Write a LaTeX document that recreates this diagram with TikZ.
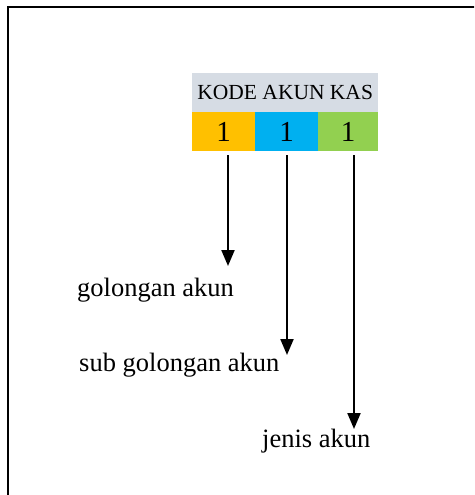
\documentclass[tikz,border=0pt]{standalone}
\usepackage{fontspec}
\setmainfont{Liberation Serif}
\usetikzlibrary{arrows.meta}
\definecolor{hdrgray}{HTML}{D6DCE4}
\definecolor{cellorange}{HTML}{FFC000}
\definecolor{cellblue}{HTML}{00B0F0}
\definecolor{cellgreen}{HTML}{92D050}
\begin{document}
\begin{tikzpicture}[x=1pt,y=-1pt,
  cellbox/.style={minimum width=63pt,minimum height=39pt,inner sep=0pt,outer sep=0pt,font=\fontsize{29}{32}\selectfont},
  lbl/.style={anchor=base west,inner sep=0pt,font=\fontsize{26.5}{30}\selectfont},
  arr/.style={line width=2.1pt,-{Triangle[width=13pt,length=16pt]}}]
\useasboundingbox (0,0) rectangle (474,495);
\begin{scope}
\clip (0,0) rectangle (474,495);
\draw[line width=2.4pt] (8,7) rectangle (490,510);
\end{scope}
\node[fill=hdrgray,minimum width=186pt,minimum height=39pt,inner sep=0pt,anchor=north west,font=\fontsize{21.5}{24}\selectfont] (hdr) at (192,73) {\raisebox{-5pt}{KODE AKUN KAS}};
\node[cellbox,fill=cellorange,anchor=north west] (c1) at (192,112) {1};
\node[cellbox,fill=cellblue,anchor=north west] (c2) at (255,112) {1};
\node[cellbox,fill=cellgreen,anchor=north west,minimum width=60pt] (c3) at (318,112) {1};
\node[lbl] (l1) at (77,296) {golongan akun};
\node[lbl] (l2) at (79,371) {sub golongan akun};
\node[lbl] (l3) at (262,447) {jenis akun};
\coordinate (t1) at (228,266);
\coordinate (t2) at (287,355);
\coordinate (t3) at (354,429);
\draw[arr] (c1.south -| t1) ++(0,4) -- (t1);
\draw[arr] (c2.south -| t2) ++(0,4) -- (t2);
\draw[arr] (c3.south -| t3) ++(0,4) -- (t3);
\end{tikzpicture}
\end{document}
